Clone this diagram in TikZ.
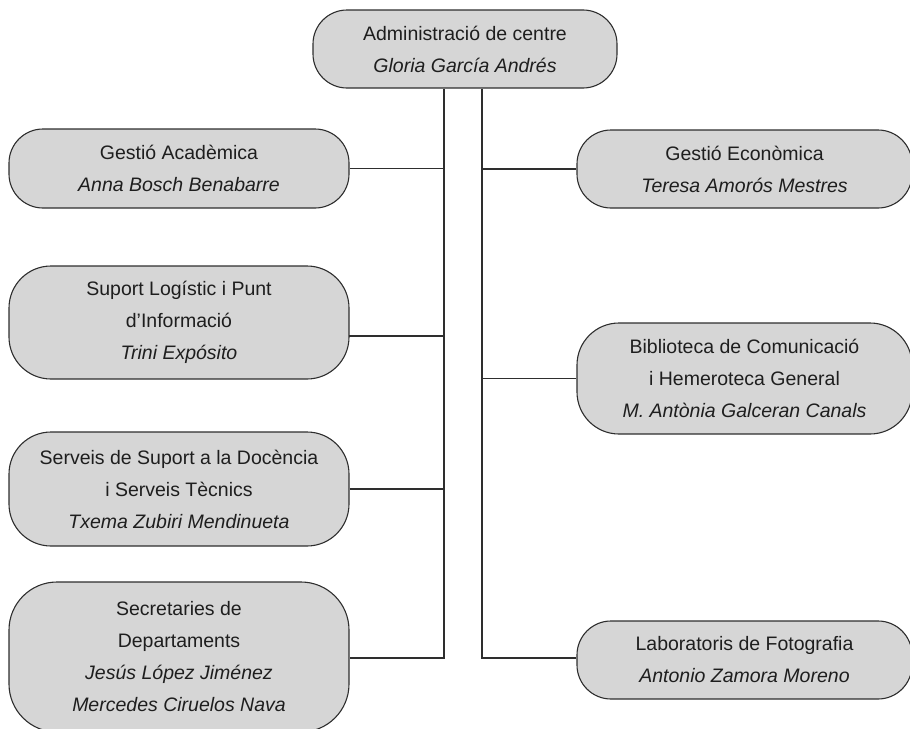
\documentclass[tikz,border=0pt]{standalone}
\usepackage{fontspec}
\setmainfont{Liberation Sans}
\definecolor{boxfill}{HTML}{D6D6D6}
\definecolor{edge}{HTML}{2E2E2E}
\definecolor{ink}{HTML}{1E1E1E}
\begin{document}
\begin{tikzpicture}[x=1pt,y=-1pt,
  unit/.style={draw=edge, line width=1.1pt, fill=boxfill, rounded corners=34pt,
    rectangle, align=center, inner sep=0pt, text=ink,
    font=\fontsize{19.5}{32}\selectfont},
  tallunit/.style={unit, rounded corners=42pt},
  hugeunit/.style={unit, rounded corners=48pt},
  link/.style={draw=edge, line width=1.1pt}]
\useasboundingbox (0,0) rectangle (910,728);
\node[unit, minimum width=304pt, minimum height=78pt] (top) at (465,49)
  {Administració de centre\\\textit{Gloria García Andrés}};
\node[unit, minimum width=340pt, minimum height=79pt] (ga) at (179,168.5)
  {Gestió Acadèmica\\\textit{Anna Bosch Benabarre}};
\node[tallunit, minimum width=340pt, minimum height=113pt] (sl) at (179,322.5)
  {Suport Logístic i Punt\\d’Informació\\\textit{Trini Expósito}};
\node[tallunit, minimum width=340pt, minimum height=114pt] (ss) at (179,489)
  {Serveis de Suport a la Docència\\i Serveis Tècnics\\\textit{Txema Zubiri Mendinueta}};
\node[hugeunit, minimum width=340pt, minimum height=150pt] (sd) at (179,657)
  {Secretaries de\\Departaments\\\textit{Jesús López Jiménez}\\\textit{Mercedes Ciruelos Nava}};
\node[unit, minimum width=335pt, minimum height=78pt] (ge) at (744.5,169)
  {Gestió Econòmica\\\textit{Teresa Amorós Mestres}};
\node[tallunit, minimum width=335pt, minimum height=111pt] (bc) at (744.5,378.5)
  {Biblioteca de Comunicació\\i Hemeroteca General\\\textit{M. Antònia Galceran Canals}};
\node[unit, minimum width=335pt, minimum height=78pt] (lf) at (744.5,660)
  {Laboratoris de Fotografia\\\textit{Antonio Zamora Moreno}};
\coordinate (Lx) at (444,0);
\coordinate (Rx) at (482,0);
\coordinate (lend) at (444,658);
\coordinate (rend) at (482,658);
\coordinate (slc) at (349,336);
% left trunk
\draw[link] (top.south -| Lx) -- (lend) -- (lend -| sd.east);
\draw[link] (ga.east) -- (ga.east -| Lx);
\draw[link] (slc) -- (slc -| Lx);
\draw[link] (ss.east) -- (ss.east -| Lx);
% right trunk
\draw[link] (top.south -| Rx) -- (rend) -- (rend -| lf.west);
\draw[link] (ge.west) -- (ge.west -| Rx);
\draw[link] (bc.west) -- (bc.west -| Rx);
\end{tikzpicture}
\end{document}
